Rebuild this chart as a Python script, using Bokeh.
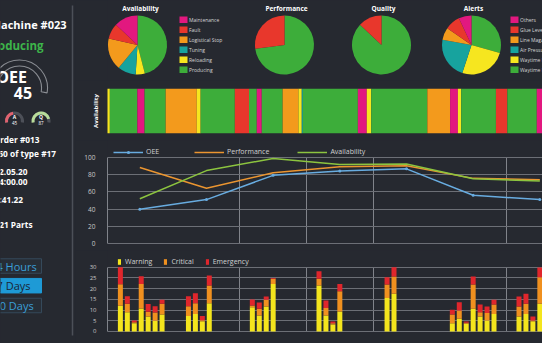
import numpy as np
from bokeh.plotting import figure
from bokeh.layouts import row, column
from bokeh.models import Range1d, FixedTicker, Legend, LegendItem, ColumnDataSource
from bokeh.core.properties import value
from bokeh.embed import file_html
from bokeh.resources import INLINE

# ------------------------------------------------------------------ data
machine_name = "Machine #023"
machine_status = "Producing"
oee_value = 45
gauge_names = ["A", "Q"]
gauge_values = [45, 87]
info_lines = ["Order #013", "250 of type #17", "12.05.20", "14:00.00", "02:41.22", "121 Parts"]
buttons = ["24 Hours", "7 Days", "30 Days"]
active_button = "7 Days"

avail_cats = ["Maintenance", "Fault", "Logistical Stop", "Tuning", "Reloading", "Producing"]
avail_vals = [13, 8.5, 17.5, 10, 5, 46]
perf_cats = ["Performance", "Loss"]
perf_vals = [73, 27]
qual_cats = ["Good", "Scrap"]
qual_vals = [87, 13]
alert_cats = ["Others", "Glue Level Low", "Line Magazine", "Air Pressure", "Waytime Reloading", "Waytime Repair"]
alert_vals = [7, 8.3, 6.8, 22.8, 25.6, 29.4]

band_states = ["Reloading", "Producing", "Maintenance", "Producing", "Logistical Stop", "Reloading",
               "Producing", "Fault", "Producing", "Maintenance", "Producing", "Logistical Stop",
               "Reloading", "Tuning", "Producing", "Maintenance", "Reloading", "Producing",
               "Logistical Stop", "Maintenance", "Reloading", "Producing", "Fault", "Producing",
               "Maintenance"]
band_hours = [1.2, 9.9, 2.6, 7.6, 11.2, 1.4, 12.3, 5.1, 2.8, 1.8, 7.5, 5.7, 1.2, 0.4, 19.8,
              3.2, 1.6, 20.2, 8.2, 2.8, 1.2, 12.5, 4.1, 10.6, 2.8]

day_hours = [12, 36, 60, 84, 108, 132, 156]
oee = [40, 51, 79, 84, 86.5, 56, 51]
performance = [88, 64, 82, 89, 90, 75.5, 74]
availability = [52, 84.5, 98.5, 91.5, 92, 75, 72.5]
day_breaks = [48, 72, 96, 144]

alert_hours = [5, 7.5, 10, 12.5, 15, 17.5, 20,
               29.5, 32, 34.5, 37,
               52.5, 55, 57.5, 60,
               76.5, 79, 81.5, 84,
               101, 103.5,
               124.5, 127, 129.5, 132, 134.5, 137, 139.5,
               148.5, 151, 153.5, 156]
warning = [12, 9, 3.8, 10.7, 7, 5, 7.9,
           7.2, 8.2, 4.8, 13.2,
           11.3, 7.5, 11.7, 22.2,
           21.5, 7.5, 3.3, 9.3,
           15.6, 17.6,
           3.9, 5.9, 3.6, 10.6, 7, 5.1, 8.2,
           7, 8.2, 4.8, 12.9]
critical = [10, 3.9, 0.5, 11.5, 2.2, 3.9, 5,
            4.6, 5, 0.5, 8.3,
            0.8, 3.1, 3.1, 2.4,
            3.1, 3.5, 0.6, 9.5,
            6.3, 8.1,
            4, 3.9, 0.5, 11.3, 2, 3.5, 4.4,
            4.7, 4.7, 0.3, 12.4]
emergency = [8, 3.6, 0.8, 3.6, 3.6, 2.9, 1.9,
             4.7, 4.7, 1.9, 4.6,
             2.8, 2.9, 1.5, 0.4,
             3.5, 3.5, 0.8, 3.4,
             3.4, 4.3,
             2.2, 3.9, 0.6, 3.8, 3.6, 3.1, 2.2,
             4.6, 4.7, 1.9, 4.6]

# ------------------------------------------------------------------ style
BG = "#262930"
FONT = "Open Sans"
MAG, RED, ORA, TEAL, YEL, GRN = "#e2187f", "#e8372c", "#f39a1c", "#17a39e", "#f6e61f", "#3dad3a"
state_color = {"Maintenance": MAG, "Fault": RED, "Logistical Stop": ORA, "Tuning": TEAL,
               "Reloading": YEL, "Producing": GRN}
six_colors = [MAG, RED, ORA, TEAL, YEL, GRN]
GRID = "#6c6f76"
TICK = "#c8c8c8"
BGSTYLE = {"background-color": BG, "border": "none", "outline": "none"}


def make_fig(w, h, xr, yr, **kw):
    p = figure(width=w, height=h, x_range=xr, y_range=yr, output_backend="svg",
               toolbar_location=None, background_fill_color=BG, border_fill_color=BG,
               outline_line_color=None, min_border=0, styles=BGSTYLE, **kw)
    return p


def txt(p, x, y, s, size, color="white", style="bold", align="left"):
    p.text(x=[x], y=[y], text=[s], text_align=align, text_baseline="middle",
           text_font=value(FONT), text_font_size=size, text_font_style=style, text_color=color)


# ------------------------------------------------------------------ left panel
left = make_fig(75, 343, Range1d(0, 75), Range1d(-343, 0))
left.axis.visible = False
left.grid.visible = False
left.segment(x0=[72], y0=[-5], x1=[72], y1=[-335], line_color="#4c5058", line_width=1.5)
txt(left, 66, -24, machine_name, "11px", align="right")
txt(left, 43, -45, machine_status, "11.5px", color="#3db54a", align="right")

# big OEE gauge (outline)
left.annular_wedge(x=[19], y=[-87.5], inner_radius=22, outer_radius=28,
                   inner_radius_units="screen", outer_radius_units="screen",
                   start_angle=np.deg2rad(190), end_angle=np.deg2rad(-10), direction="clock",
                   fill_color=None, line_color="#8a8d93", line_width=1.1)
txt(left, 26.5, -76, "OEE", "16px", align="right")
txt(left, 22.5, -92, str(oee_value), "16px", align="center")

# small gauges
gx = [14, 40.5]
for cx, name, v in zip(gx, gauge_names, gauge_values):
    col = "#b8dc9a" if v >= 75 else "#e0626f"
    left.annular_wedge(x=[cx], y=[-120.5], inner_radius=6.5, outer_radius=9.5,
                       inner_radius_units="screen", outer_radius_units="screen",
                       start_angle=np.deg2rad(190), end_angle=np.deg2rad(-10), direction="clock",
                       fill_color="#4d5058", line_color=None)
    left.annular_wedge(x=[cx], y=[-120.5], inner_radius=6.5, outer_radius=9.5,
                       inner_radius_units="screen", outer_radius_units="screen",
                       start_angle=np.deg2rad(190), end_angle=np.deg2rad(190 - 2 * v),
                       direction="clock", fill_color=col, line_color=None)
    txt(left, cx, -116, name, "5px", align="center")
    txt(left, cx, -122, str(v), "4.5px", style="normal", align="center")

info_right = [39, 55.5, 27, 27, 22.5, 32]
info_y = [139, 153, 171, 180.5, 199, 223.5]
for s, xr_, yy in zip(info_lines, info_right, info_y):
    txt(left, xr_, -yy, s, "8.3px", align="right")

btn_y = [265.5, 285.2, 305]
for s, yy in zip(buttons, btn_y):
    active = s == active_button
    left.rect(x=[13], y=[-yy], width=56, height=14.5,
              fill_color="#1e9ad6" if active else "#272e37",
              line_color="#1e9ad6" if active else "#35495a", line_width=1)
    txt(left, 13, -yy, s, "11px", color="#1b2533" if active else "#3a9fd8",
        style="normal", align="center")

# ------------------------------------------------------------------ pies row
# (its frame is aligned with the charts below: it starts at x = 107)
pies = make_fig(467, 80, Range1d(107, 542), Range1d(-80, 0), min_border_left=32)
pies.axis.visible = False
pies.grid.visible = False


def pie(p, cx, cy, r, vals, colors, title, dx=2):
    vals = np.asarray(vals, float)
    frac = vals / vals.sum()
    cum = np.concatenate([[0.0], np.cumsum(frac)])
    src = ColumnDataSource(dict(start=np.pi / 2 - 2 * np.pi * cum[:-1],
                                end=np.pi / 2 - 2 * np.pi * cum[1:], color=list(colors)))
    p.wedge(x=cx, y=cy, radius=r, radius_units="screen", start_angle="start", end_angle="end",
            direction="clock", fill_color="color", line_color=None, source=src)
    txt(p, cx + dx, -8, title, "6.5px", align="center")


def pie_legend(p, xs, cats, colors):
    ys = [-(19.3 + 10 * i) for i in range(len(cats))]
    p.rect(x=[xs] * len(cats), y=ys, width=8, height=6.5, width_units="screen",
           height_units="screen", fill_color=list(colors), line_color=None)
    p.text(x=[xs + 5.5] * len(cats), y=ys, text=list(cats), text_baseline="middle",
           text_font=value(FONT), text_font_size="5px", text_color="#d5d5d5")


pie(pies, 137, -44.5, 29.5, avail_vals[::-1], six_colors[::-1], "Availability", dx=3)
pie_legend(pies, 183, avail_cats, six_colors)
pie(pies, 284, -44.5, 29.5, perf_vals, [GRN, RED], "Performance")
pie(pies, 381, -44.5, 29.5, qual_vals, [GRN, RED], "Quality")
pie(pies, 471, -44.5, 29.5, alert_vals[::-1], six_colors[::-1], "Alerts")
pie_legend(pies, 514, alert_cats, six_colors)

# ------------------------------------------------------------------ shared time axis
PX_PER_H = 66.667 / 24.0
H0 = (107 - 106) / PX_PER_H
H1 = H0 + 435 / PX_PER_H

# ------------------------------------------------------------------ availability band
band = make_fig(467, 60, Range1d(H0, H1), Range1d(0, 1),
                min_border_left=32, min_border_top=8, min_border_bottom=7)
ends = np.cumsum(band_hours)
starts = ends - np.asarray(band_hours)
band.quad(left=starts, right=ends, bottom=0, top=1,
          fill_color=[state_color[s] for s in band_states], line_color=None)
band.xaxis.visible = False
band.grid.visible = False
band.yaxis.ticker = FixedTicker(ticks=[])
band.yaxis.axis_line_color = None
band.yaxis.major_tick_line_color = None
band.yaxis.minor_tick_line_color = None
band.yaxis.major_label_text_font_size = "0px"
band.yaxis.major_label_standoff = 0
band.yaxis.axis_label = "Availability"
band.yaxis.axis_label_text_font = FONT
band.yaxis.axis_label_text_font_size = "6px"
band.yaxis.axis_label_text_font_style = "bold"
band.yaxis.axis_label_text_color = "white"
band.yaxis.axis_label_standoff = 8

# ------------------------------------------------------------------ KPI lines
lines = make_fig(467, 110, Range1d(H0, H1), Range1d(-0.81, 119.2),
                 min_border_left=32, min_border_top=0, min_border_bottom=6)
lines.xaxis.visible = False
lines.xgrid.ticker = FixedTicker(ticks=day_breaks)
lines.xgrid.grid_line_color = "#80838a"
lines.xgrid.cross_bounds = (0, 100)
lines.ygrid.ticker = FixedTicker(ticks=[0, 20, 40, 60, 80, 100])
lines.ygrid.grid_line_color = GRID
lines.yaxis.ticker = FixedTicker(ticks=[0, 20, 40, 60, 80, 100])
lines.yaxis.bounds = (0, 100)
lines.yaxis.axis_line_color = "#80838a"
lines.yaxis.major_tick_line_color = None
lines.yaxis.minor_tick_line_color = None
lines.yaxis.major_label_text_color = TICK
lines.yaxis.major_label_text_font = FONT
lines.yaxis.major_label_text_font_size = "6.5px"
lines.yaxis.major_label_standoff = 6

r_oee = lines.line(day_hours, oee, line_color="#68ace0", line_width=1.5)
s_oee = lines.scatter(day_hours, oee, size=3, fill_color="#68ace0", line_color=None)
r_perf = lines.line(day_hours, performance, line_color="#eb9530", line_width=1.5)
r_av = lines.line(day_hours, availability, line_color="#8cc43f", line_width=1.5)
lines_leg = Legend(items=[LegendItem(label="OEE", renderers=[r_oee, s_oee]),
                          LegendItem(label="Performance", renderers=[r_perf]),
                          LegendItem(label="Availability", renderers=[r_av])],
                   location=(6, 88), orientation="horizontal", glyph_width=30, glyph_height=8,
                   label_height=8, label_standoff=3, spacing=28, padding=0, margin=0,
                   background_fill_alpha=0, border_line_color=None,
                   label_text_font=FONT, label_text_font_size="7px", label_text_color="#d0d0d0")
lines.add_layout(lines_leg)

# ------------------------------------------------------------------ alerts bars
bars = make_fig(467, 93, Range1d(H0, H1), Range1d(-0.47, 37.8),
                min_border_left=32, min_border_top=0, min_border_bottom=11)
bars.xaxis.visible = False
bars.xgrid.ticker = FixedTicker(ticks=day_breaks)
bars.xgrid.grid_line_color = "#80838a"
bars.xgrid.cross_bounds = (0, 30)
bars.ygrid.ticker = FixedTicker(ticks=[0, 5, 10, 15, 20, 25, 30])
bars.ygrid.grid_line_color = GRID
bars.yaxis.ticker = FixedTicker(ticks=[0, 5, 10, 15, 20, 25, 30])
bars.yaxis.bounds = (0, 30)
bars.yaxis.axis_line_color = "#80838a"
bars.yaxis.major_tick_line_color = None
bars.yaxis.minor_tick_line_color = None
bars.yaxis.major_label_text_color = TICK
bars.yaxis.major_label_text_font = FONT
bars.yaxis.major_label_text_font_size = "6px"
bars.yaxis.major_label_standoff = 5

src = ColumnDataSource(dict(x=alert_hours, Warning=warning, Critical=critical, Emergency=emergency))
stack_names = ["Warning", "Critical", "Emergency"]
rs = bars.vbar_stack(stack_names, x="x", width=1.8, fill_color=["#f4e51d", "#f0901f", "#e0262c"],
                     line_color=None, source=src)
bars_leg = Legend(items=[LegendItem(label=n, renderers=[r]) for n, r in zip(stack_names, rs)],
                  location=(10, 66), orientation="horizontal", glyph_width=4, glyph_height=7,
                  label_height=8, label_standoff=4, spacing=11, padding=0, margin=0,
                  background_fill_alpha=0, border_line_color=None,
                  label_text_font=FONT, label_text_font_size="7px", label_text_color="#d0d0d0")
bars.add_layout(bars_leg)

layout = row(left, column(pies, band, lines, bars, styles=BGSTYLE), styles=BGSTYLE)
html = file_html(layout, INLINE)
html = html.replace("<body", '<body style="margin:0;background-color:%s;"' % BG, 1)
open("out.html", "w").write(html)
